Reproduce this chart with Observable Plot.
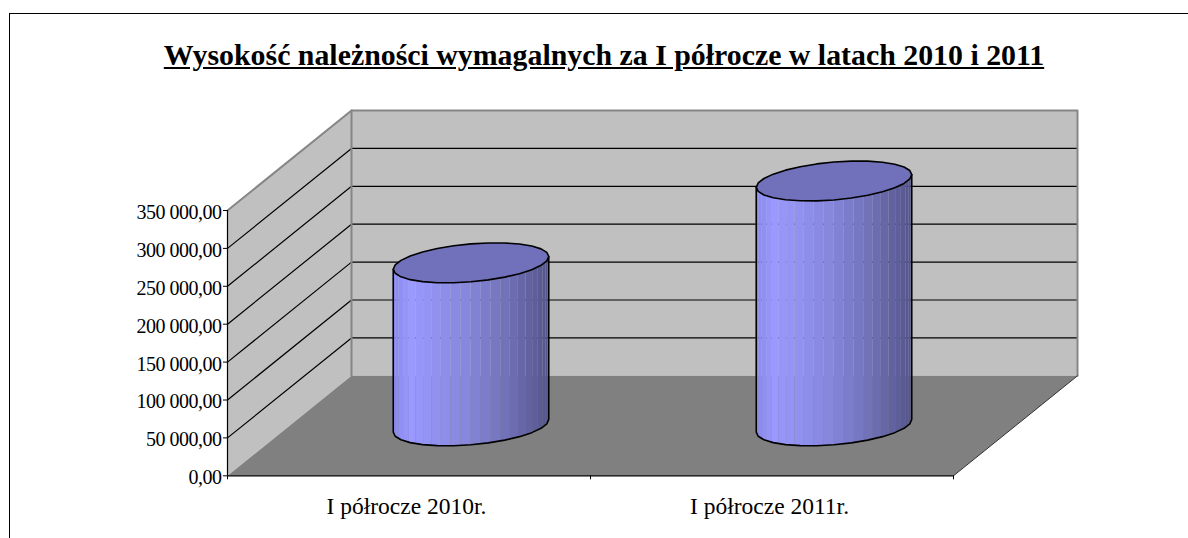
<!DOCTYPE html>
<html><head><meta charset="utf-8">
<script src="https://cdn.jsdelivr.net/npm/d3@7"></script>
<script src="https://cdn.jsdelivr.net/npm/@observablehq/plot@0.6"></script>
<style>
html,body{margin:0;padding:0;background:#fff;overflow:hidden}
#chart{position:relative;width:1188px;height:538px}
#frame{position:absolute;left:9px;top:13px;right:-5px;bottom:-5px;border:1.3px solid #000}
#title{position:absolute;left:0;width:1208px;top:38px;text-align:center;font:bold 29.85px "Liberation Serif",serif;text-decoration:underline;line-height:34px;color:#000;white-space:nowrap}
#plot{position:absolute;left:0;top:88px}
#plot svg g[aria-label="y-axis tick label"] text{letter-spacing:-0.5px}
svg{display:block}
</style></head><body>
<div id="chart"><div id="frame"></div>
<div id="title">Wysokość należności wymagalnych za I półrocze w latach 2010 i 2011</div>
<div id="plot"></div></div>
<script>
const categories = ["I półrocze 2010r.", "I półrocze 2011r."];
const values = [215000, 323000];
const yTicks = [0, 50000, 100000, 150000, 200000, 250000, 300000, 350000];

const depthX = 0.3416, depthV = 131900, yMax = 350000, xMax = categories.length;
const rx = 0.203, rd = 0.2, t0 = Math.atan2(rd * depthX, rx);
const P = (x, v, d) => ({px: x + d * depthX, pv: v + d * depthV});
const fmt = d => d === 0 ? "0,00" : d3.format(",.2f")(d).replace(/,/g, " ").replace(".", ",");
const rim = (c, v, t) => P(c + rx * Math.cos(t), v, 0.5 + rd * Math.sin(t));

const shade = d3.scaleLinear().domain([0, .12, .5, .75, 1])
  .range(["#8a8aec", "#9999ff", "#8585da", "#6f6fb5", "#55558c"]);

const poly = (id, pts, fill) => pts.map(p => ({...p, id, fill}));
const walls = [
  ...poly("left", [P(0,0,0), P(0,yMax,0), P(0,yMax,1), P(0,0,1)], "#c0c0c0"),
  ...poly("back", [P(0,0,1), P(0,yMax,1), P(xMax,yMax,1), P(xMax,0,1)], "#c0c0c0"),
  ...poly("floor", [P(0,0,0), P(0,0,1), P(xMax,0,1), P(xMax,0,0)], "#808080")
];
const edge = [P(0,yMax,0), P(0,yMax,1), P(xMax,yMax,1), P(xMax,0,1)];
const edgeIn = [P(0,yMax,1), P(0,0,1)];
const edgeR = [P(xMax,0,1), P(xMax,0,0)];
const grid = yTicks.filter(v => v > 0 && v < yMax).flatMap(v =>
  [P(0,v,0), P(0,v,1), P(xMax,v,1)].map(p => ({...p, id: v})));

const segs = 24, rimSegs = 14;
const strips = [], outline = [], tops = [];
values.forEach((val, i) => {
  const c = i + 0.5;
  const start = t0 + Math.PI;
  const ang = d3.range(segs + 1).map(k => start + k * Math.PI / segs);
  const xmin = rim(c, 0, start).px, xmax = rim(c, 0, t0).px;
  for (let k = 0; k < segs; k++) {
    const m = rim(c, 0, (ang[k] + ang[k+1]) / 2);
    const col = d3.color(shade((m.px - xmin) / (xmax - xmin))).formatHex();
    [ang[k], ang[k+1]].forEach(t => {
      const b = rim(c, 0, t);
      strips.push({id: i + "-" + k, x: b.px, y1: b.pv, y2: b.pv + val, fill: col});
    });
  }
  // silhouette: down the left side, along the front of the base, up the right side
  const r = rim(c, 0, t0), l = rim(c, 0, start);
  outline.push({px: l.px, pv: l.pv + val, id: "b" + i});
  d3.range(rimSegs + 1).forEach(k => outline.push({...rim(c, 0, start + k * Math.PI / rimSegs), id: "b" + i}));
  outline.push({px: r.px, pv: r.pv + val, id: "b" + i});
  d3.range(2 * rimSegs + 1).forEach(k => {
    tops.push({...rim(c, val, t0 + k * Math.PI / rimSegs), id: "t" + i});
  });
});

const font = {fontFamily: "Liberation Serif", fill: "#000"};
const plot = Plot.plot({
  width: 1188, height: 450,
  marginLeft: 227, marginRight: 235, marginTop: 122, marginBottom: 62.7,
  x: {domain: [0, xMax], axis: null},
  y: {domain: [0, yMax], axis: null},
  style: {background: "transparent", overflow: "visible"},
  marks: [
    Plot.line(walls, {x: "px", y: "pv", z: "id", fill: d => d.fill, stroke: "none", curve: "linear-closed"}),
    Plot.line(grid, {x: "px", y: "pv", z: "id", stroke: "#000", strokeWidth: 1.2}),
    Plot.line(edgeIn, {x: "px", y: "pv", stroke: "#868686", strokeWidth: 2}),
    Plot.line(edge, {x: "px", y: "pv", stroke: "#868686", strokeWidth: 2}),
    Plot.line(edgeR, {x: "px", y: "pv", stroke: "#333", strokeWidth: 1}),
    Plot.area(strips, {x1: "x", x2: "x", y1: "y1", y2: "y2", z: "id", fill: d => d.fill}),
    Plot.line(tops, {x: "px", y: "pv", z: "id", fill: "#7070bb", stroke: "#000", strokeWidth: 1.6}),
    Plot.line(outline, {x: "px", y: "pv", z: "id", stroke: "#000", strokeWidth: 1.6}),
    Plot.ruleX([0], {y1: 0, y2: yMax, stroke: "#000", strokeWidth: 1.2}),
    Plot.ruleY([0], {x1: 0, x2: xMax, stroke: "#000", strokeWidth: 1.2}),
    Plot.axisY({ticks: yTicks, tickFormat: () => "", tickSize: 4, stroke: "#000", label: null}),
    Plot.axisY({ticks: yTicks, tickFormat: fmt, tickSize: 0, tickPadding: 6, dy: 2, fontSize: 20, ...font, label: null}),
    Plot.axisX({ticks: [0, 1, 2], tickFormat: () => "", tickSize: 4, stroke: "#000", label: null}),
    Plot.axisX({ticks: [0.5, 1.5], tickFormat: d => categories[Math.floor(d)], tickSize: 0, tickPadding: 22, dx: -2.5, fontSize: 23.5, ...font, label: null})
  ]
});
document.getElementById("plot").append(plot);
</script>
</body></html>
